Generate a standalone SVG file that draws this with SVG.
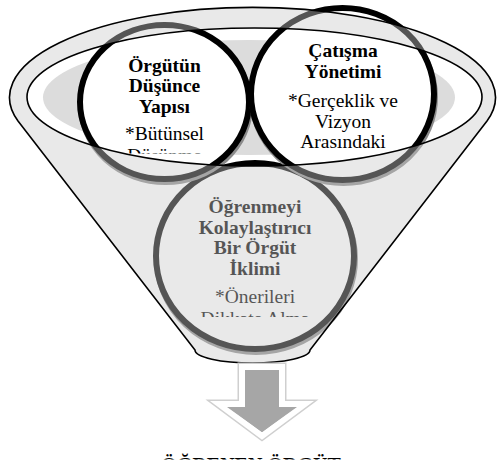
<svg xmlns="http://www.w3.org/2000/svg" width="497" height="467" viewBox="0 0 497 467">
<style>
text{font-family:"Liberation Serif","DejaVu Serif","Times New Roman",serif;fill:#000;text-anchor:middle}
.b{font-weight:bold;font-size:19.5px}
.r{font-weight:normal;font-size:19.5px}
.ring{fill:#fff;stroke:#000;stroke-width:6}
.shadow{fill:none;stroke:#8a8a8a;stroke-width:6}
.line{fill:none;stroke:#000;stroke-width:1.6}
</style>
<defs>
<clipPath id="c1"><rect x="60" y="0" width="210" height="153.5"/></clipPath>
<clipPath id="c2"><rect x="240" y="0" width="210" height="154"/></clipPath>
<clipPath id="c3"><rect x="140" y="150" width="230" height="167"/></clipPath>
<clipPath id="cb"><rect x="0" y="440" width="497" height="19.5"/></clipPath>
</defs>
<rect width="497" height="467" fill="#fff"/>
<g id="funnel-back">
<path d="M18,121 A243,90 0 1,1 487,121 L310,350 A57.5,13 0 0,1 195,350 Z" fill="#fff"/>
<ellipse cx="249" cy="97.5" rx="206" ry="57.5" fill="#dcdcdc"/>
</g>
<g id="node3">
<ellipse class="shadow" cx="256" cy="259" rx="99" ry="93"/>
<ellipse class="ring" cx="255" cy="256" rx="99" ry="93"/>
<g clip-path="url(#c3)">
<text class="b" font-family="Liberation Serif" x="255" y="213.3">Öğrenmeyi</text>
<text class="b" font-family="Liberation Serif" x="255" y="233.8">Kolaylaştırıcı</text>
<text class="b" font-family="Liberation Serif" x="255" y="254.3">Bir Örgüt</text>
<text class="b" font-family="Liberation Serif" x="255" y="274.8">İklimi</text>
<text class="r" font-family="Liberation Serif" x="255" y="303.3">*Önerileri</text>
<text class="r" font-family="Liberation Serif" x="255" y="325">Dikkate Alma</text>
</g>
</g>
<g id="node1">
<ellipse class="shadow" cx="165.5" cy="105" rx="84.5" ry="77"/>
<ellipse class="ring" cx="164.5" cy="102" rx="84.5" ry="77"/>
<g clip-path="url(#c1)">
<text class="b" font-family="Liberation Serif" x="164.5" y="71.5">Örgütün</text>
<text class="b" font-family="Liberation Serif" x="164.5" y="92">Düşünce</text>
<text class="b" font-family="Liberation Serif" x="164.5" y="112.5">Yapısı</text>
<text class="r" font-family="Liberation Serif" x="164.5" y="140">*Bütünsel</text>
<text class="r" font-family="Liberation Serif" x="164.5" y="162">Düşünme</text>
</g>
</g>
<g id="node2">
<ellipse class="shadow" cx="343.5" cy="97" rx="91.5" ry="86"/>
<ellipse class="ring" cx="342.5" cy="94" rx="91.5" ry="86"/>
<g clip-path="url(#c2)">
<text class="b" font-family="Liberation Serif" x="343" y="57.3">Çatışma</text>
<text class="b" font-family="Liberation Serif" x="343" y="77.6">Yönetimi</text>
<text class="r" font-family="Liberation Serif" x="343" y="107.3">*Gerçeklik ve</text>
<text class="r" font-family="Liberation Serif" x="343" y="127.8">Vizyon</text>
<text class="r" font-family="Liberation Serif" x="343" y="148.3">Arasındaki</text>
</g>
</g>
<g id="funnel-front">
<path d="M18,121 A243,90 0 1,1 487,121 L310,350 A57.5,13 0 0,1 195,350 Z M27,97 A227.5,69 0 1,0 482,97 A227.5,69 0 1,0 27,97 Z" fill="#cacaca" fill-opacity="0.42" fill-rule="evenodd"/>
<path class="line" d="M18,121 A243,90 0 1,1 487,121 L310,350 A57.5,13 0 0,1 195,350 Z"/>
<ellipse class="line" cx="254.5" cy="97" rx="227.5" ry="69"/>
</g>
<g id="connectors">
<path d="M242,367 L282,367 L282,404 L305,404 L262,436 L219,404 L242,404 Z" fill="none" stroke="#cfcfcf" stroke-width="9" stroke-linejoin="miter"/>
<path d="M242,367 L282,367 L282,404 L305,404 L262,436 L219,404 L242,404 Z" fill="#a6a6a6" stroke="#fff" stroke-width="6" stroke-linejoin="miter"/>
<path d="M245,370 L279,370 L279,407 L297,407 L262,432 L227,407 L245,407 Z" fill="#a6a6a6"/>
</g>
<g id="result" clip-path="url(#cb)">
<text font-family="Liberation Serif" x="251" y="472" style="font-weight:bold;font-size:20px">ÖĞRENEN ÖRGÜT</text>
</g>
</svg>
